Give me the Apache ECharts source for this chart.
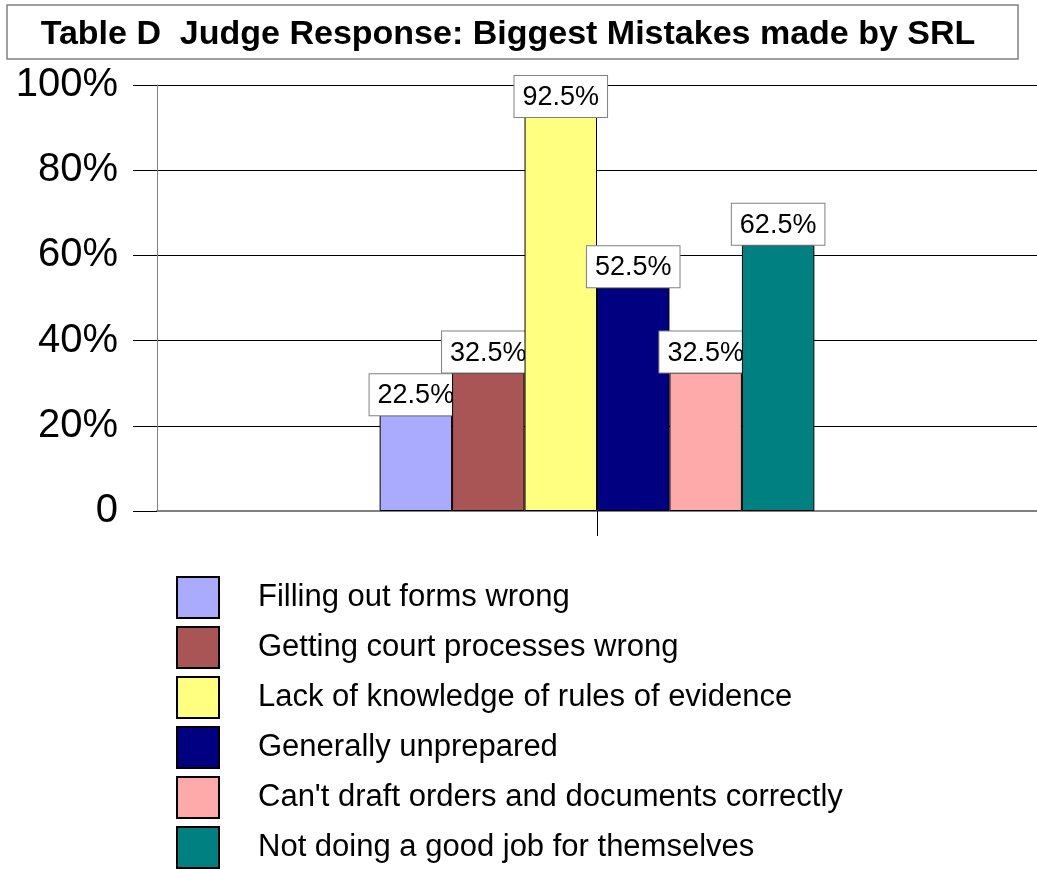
<!DOCTYPE html>
<html>
<head>
<meta charset="utf-8">
<script src="https://cdn.jsdelivr.net/npm/echarts@6/dist/echarts.min.js"></script>
<style>
  html, body { margin: 0; padding: 0; background: #fff; }
  #chart { width: 1037px; height: 869px; }
</style>
</head>
<body>
<div id="chart"></div>
<script>
// Judge survey: share of judges naming each mistake by self-represented litigants
const titleText = 'Table D  Judge Response: Biggest Mistakes made by SRL';
const categories = [''];
const seriesNames = [
  'Filling out forms wrong',
  'Getting court processes wrong',
  'Lack of knowledge of rules of evidence',
  'Generally unprepared',
  "Can't draft orders and documents correctly",
  'Not doing a good job for themselves'
];
const seriesValues = [22.5, 32.5, 92.5, 52.5, 32.5, 62.5];
const seriesColors = ['#AAAAFF', '#AA5555', '#FFFF80', '#000080', '#FFAAAA', '#008080'];
const yTicks = [0, 20, 40, 60, 80, 100];

const FONT = '"Liberation Sans", Arial, sans-serif';

const chart = echarts.init(document.getElementById('chart'), null, { renderer: 'canvas' });

const series = seriesNames.map((name, i) => ({
  name: name,
  type: 'bar',
  z: 2 + i,
  data: [seriesValues[i]],
  barGap: '0%',
  barCategoryGap: '50.6%',
  itemStyle: { color: seriesColors[i], borderColor: '#000', borderWidth: 1 },
  label: {
    show: true,
    position: 'top',
    distance: 0,
    formatter: p => p.value.toFixed(1) + '%',
    fontFamily: FONT,
    fontSize: 27,
    color: '#000',
    backgroundColor: '#fff',
    borderColor: '#808080',
    borderWidth: 1,
    padding: [8, 8, 6, 8]
  },
  emphasis: { disabled: true }
}));

chart.setOption({
  animation: false,
  backgroundColor: '#fff',
  title: {
    text: titleText,
    left: 508,
    textAlign: 'center',
    top: 18,
    padding: 0,
    textStyle: { fontFamily: FONT, fontSize: 34, fontWeight: 'bold', color: '#000' }
  },
  graphic: [{
    type: 'rect',
    shape: { x: 7, y: 5, width: 1011, height: 54 },
    style: { fill: 'none', stroke: '#808080', lineWidth: 1.5 },
    z: 1
  }],
  legend: {
    orient: 'vertical',
    left: 176,
    top: 576,
    height: 400,
    padding: 0,
    itemWidth: 42,
    itemHeight: 41,
    itemGap: 7,
    icon: 'rect',
    selectedMode: false,
    data: seriesNames,
    textStyle: { fontFamily: FONT, fontSize: 31, lineHeight: 36, color: '#000', padding: [0, 0, 0, 34] }
  },
  grid: { left: 157, right: -2, top: 85, bottom: 358, containLabel: false },
  xAxis: {
    type: 'category',
    data: categories,
    axisLine: { show: true, lineStyle: { color: '#808080', width: 2 } },
    axisTick: { show: true, alignWithLabel: true, length: 25, lineStyle: { color: '#000', width: 1 } },
    axisLabel: { show: false },
    splitLine: { show: false }
  },
  yAxis: {
    type: 'value',
    min: yTicks[0],
    max: yTicks[yTicks.length - 1],
    interval: yTicks[1] - yTicks[0],
    axisLine: { show: true, lineStyle: { color: '#808080', width: 1 } },
    axisTick: { show: true, length: 24, lineStyle: { color: '#000', width: 1 } },
    axisLabel: {
      margin: 39,
      fontFamily: FONT,
      fontSize: 40,
      color: '#000',
      formatter: v => (v === 0 ? '0' : v + '%')
    },
    splitLine: { show: true, lineStyle: { color: '#000', width: 1 } }
  },
  series: series
});
</script>
</body>
</html>
